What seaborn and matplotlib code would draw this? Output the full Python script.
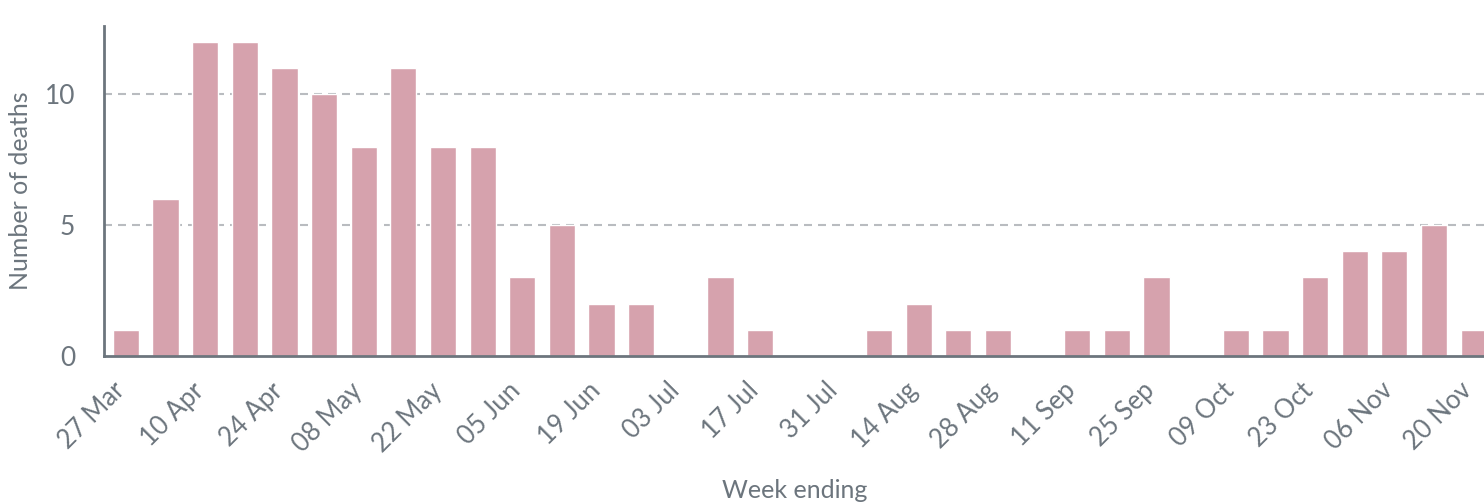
import pandas as pd
import matplotlib
matplotlib.use("Agg")
import matplotlib.pyplot as plt
import seaborn as sns

# weekly deaths, week ending dates (2020)
weeks = pd.date_range(start="2020-03-27", periods=35, freq="7D")
deaths = [1, 6, 12, 12, 11, 10, 8, 11, 8, 8,
          3, 5, 2, 2, 0, 3, 1, 0, 0, 1,
          2, 1, 1, 0, 1, 1, 3, 0, 1, 1,
          3, 4, 4, 5, 1]
week_labels = [d.strftime("%d %b") for d in weeks]

df = pd.DataFrame({"Week": week_labels, "Deaths": deaths})

sns.set_style("white")
plt.rcParams["font.family"] = ["Lato", "DejaVu Sans"]

text_col = "#6c757d"
bar_col = "#d6a2ad"

fig = plt.figure(figsize=(14.84, 5.04), dpi=100)
ax = fig.add_axes([0.0704, 0.2937, 0.9296, 0.6557])

sns.barplot(data=df, x="Week", y="Deaths", color=bar_col, width=0.66,
            saturation=1, ax=ax, zorder=2)

ax.set_xlim(-0.54, 34.26)
ax.set_ylim(0, 12.63)
ax.set_yticks([0, 5, 10])
ax.set_xticks(range(0, len(week_labels), 2))
ax.set_xticklabels(week_labels[::2], rotation=45, ha="right", va="baseline",
                   rotation_mode="anchor", fontsize=18.5, color=text_col)
ax.tick_params(axis="y", labelsize=19, labelcolor=text_col, length=0, pad=21)
ax.tick_params(axis="x", length=0, pad=26)

for y in [5, 10]:
    ax.axhline(y, color="#b9bcc0", linestyle=(0, (3.84, 2.88)), linewidth=1.5, zorder=1)

for side in ["top", "right"]:
    ax.spines[side].set_visible(False)
for side in ["left", "bottom"]:
    ax.spines[side].set_color(text_col)
    ax.spines[side].set_linewidth(2)

ax.set_xlabel("Week ending", fontsize=18, color=text_col, labelpad=16)
ax.set_ylabel("Number of deaths", fontsize=18, color=text_col, labelpad=9)

fig.savefig("out.png", dpi=100)
